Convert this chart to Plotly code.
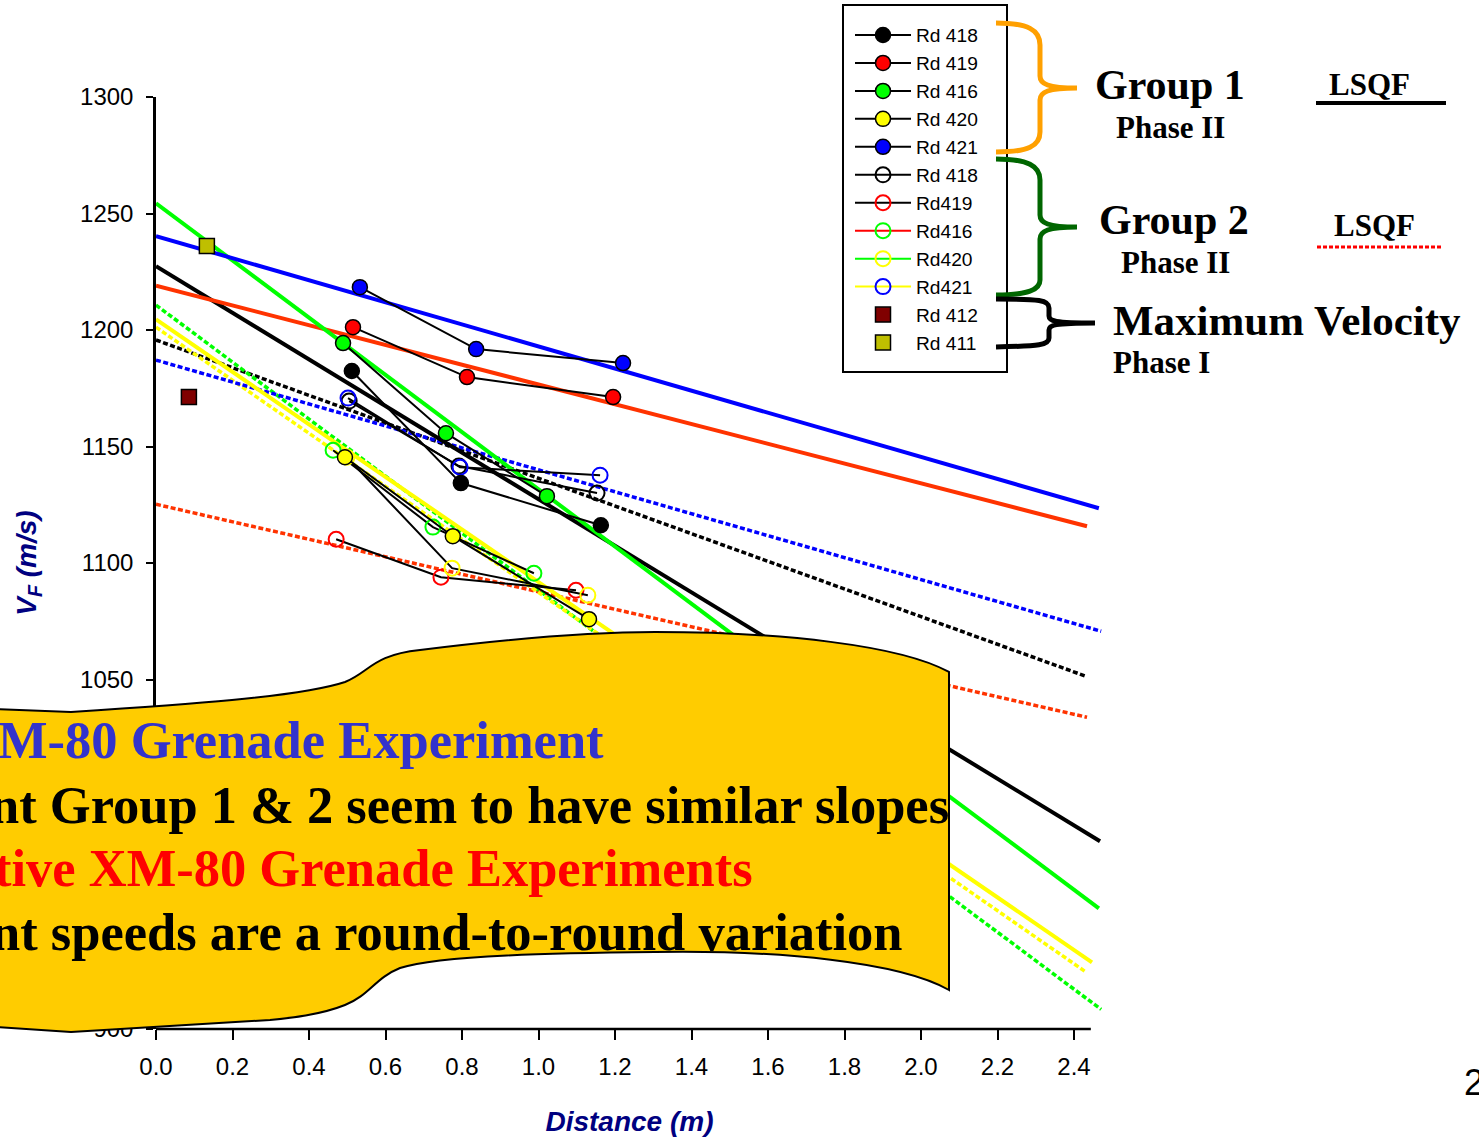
import plotly.graph_objects as go

# ---------------- data ----------------
# Group 1 - Phase II (filled markers): distance (m) / velocity (m/s)
rd418_x = [0.512, 0.797, 1.163]
rd418_v = [1182.4, 1134.3, 1116.2]
rd419_x = [0.515, 0.813, 1.195]
rd419_v = [1201.2, 1179.8, 1171.2]
rd416_x = [0.489, 0.758, 1.022]
rd416_v = [1194.4, 1155.7, 1128.7]
rd420_x = [0.494, 0.776, 1.132]
rd420_v = [1145.4, 1111.5, 1075.9]
rd421_x = [0.533, 0.837, 1.221]
rd421_v = [1218.4, 1191.8, 1185.8]

# Group 2 - Phase II (open markers)
rd418b_x = [0.505, 0.792, 1.153]
rd418b_v = [1169.5, 1141.6, 1130.0]
rd419b_x = [0.471, 0.745, 1.098]
rd419b_v = [1110.2, 1093.9, 1088.3]
rd416b_x = [0.463, 0.724, 0.988]
rd416b_v = [1148.4, 1115.4, 1095.6]
rd420b_x = [0.499, 0.774, 1.129]
rd420b_v = [1145.4, 1097.8, 1086.2]
rd421b_x = [0.502, 0.795, 1.161]
rd421b_v = [1170.8, 1141.1, 1137.7]

# Maximum velocity - Phase I
rd412_x = [0.086]
rd412_v = [1171.2]
rd411_x = [0.133]
rd411_v = [1236.0]

# LSQF fit lines (end points)
fit1_418_x = [0.0, 2.468]
fit1_418_v = [1227.4, 980.6]
fit1_419_x = [0.0, 2.434]
fit1_419_v = [1219.0, 1115.8]
fit1_416_x = [0.0, 2.465]
fit1_416_v = [1254.4, 951.8]
fit1_420_x = [0.0, 2.447]
fit1_420_v = [1204.6, 928.6]
fit1_421_x = [0.0, 2.465]
fit1_421_v = [1240.3, 1123.5]

fit2_418_x = [0.0, 2.431]
fit2_418_v = [1195.7, 1051.4]
fit2_419_x = [0.0, 2.434]
fit2_419_v = [1125.2, 1033.8]
fit2_416_x = [0.0, 2.471]
fit2_416_v = [1210.7, 908.4]
fit2_420_x = [0.0, 2.429]
fit2_420_v = [1201.2, 924.7]
fit2_421_x = [0.0, 2.471]
fit2_421_v = [1187.1, 1070.7]

x_tick_vals = [0.0, 0.2, 0.4, 0.6, 0.8, 1.0, 1.2, 1.4, 1.6, 1.8, 2.0, 2.2, 2.4]
y_tick_vals = [900, 950, 1000, 1050, 1100, 1150, 1200, 1250, 1300]
# 950 / 1000 labels are hidden behind the callout banner in the reference
y_tick_text = ["900", "", "", "1050", "1100", "1150", "1200", "1250", "1300"]

box_lines = [
    "M-80 Grenade Experiment",
    "nt Group 1 &amp; 2 seem to have similar slopes",
    "tive XM-80 Grenade Experiments",
    "nt speeds are a round-to-round variation",
]

# ---------------- layout geometry ----------------
FIG_W, FIG_H = 1479, 1138
PL, PT, PW, PH = 156, 97, 947, 932
X_PER_PX = 1 / 382.5

def px(x):
    return (x - PL) / PW

def py(y):
    return (PT + PH - y) / PH

def path(cmds, close=False):
    out = []
    for c, pts in cmds:
        out.append(c + " ".join(f"{px(a):.5f},{py(b):.5f}" for a, b in pts))
    return " ".join(out) + (" Z" if close else "")

ARIAL = "Arial, 'Liberation Sans', sans-serif"
TIMES = "'Times New Roman', 'Liberation Serif', serif"

fig = go.Figure()

# fit lines
solid = [
    (fit1_418_x, fit1_418_v, "#000000"),
    (fit1_419_x, fit1_419_v, "#FF3300"),
    (fit1_416_x, fit1_416_v, "#00FF00"),
    (fit1_420_x, fit1_420_v, "#FFFF00"),
    (fit1_421_x, fit1_421_v, "#0000FF"),
]
dotted = [
    (fit2_418_x, fit2_418_v, "#000000"),
    (fit2_419_x, fit2_419_v, "#FF3300"),
    (fit2_416_x, fit2_416_v, "#00FF00"),
    (fit2_420_x, fit2_420_v, "#FFFF00"),
    (fit2_421_x, fit2_421_v, "#0000FF"),
]
for xs, vs, col in dotted:
    fig.add_trace(go.Scatter(x=xs, y=vs, mode="lines", showlegend=False,
                             line=dict(color=col, width=3.5, dash="5px,2.5px"),
                             hoverinfo="skip"))
for xs, vs, col in solid:
    fig.add_trace(go.Scatter(x=xs, y=vs, mode="lines", showlegend=False,
                             line=dict(color=col, width=4), hoverinfo="skip"))

# group 2 data (open markers)
g2 = [
    ("Rd 418", rd418b_x, rd418b_v, "#000000", "#000000", True, 6),
    ("Rd419", rd419b_x, rd419b_v, "#FF0000", "#000000", True, 7),
    ("Rd416", rd416b_x, rd416b_v, "#00FF00", "#FF0000", False, 8),
    ("Rd420", rd420b_x, rd420b_v, "#FFFF00", "#00FF00", False, 9),
    ("Rd421", rd421b_x, rd421b_v, "#0000FF", "#FFFF00", False, 10),
]
for name, xs, vs, mcol, lcol, show, rank in g2:
    fig.add_trace(go.Scatter(
        x=xs, y=vs, mode="lines+markers", name=name, showlegend=show,
        legendrank=rank,
        line=dict(color="#000000", width=2),
        marker=dict(symbol="circle-open", size=15, color=mcol,
                    line=dict(width=2, color=mcol))))
    if not show:
        fig.add_trace(go.Scatter(
            x=[None], y=[None], mode="lines+markers", name=name,
            legendrank=rank,
            line=dict(color=lcol, width=2),
            marker=dict(symbol="circle-open", size=15, color=mcol,
                        line=dict(width=2, color=mcol))))

# group 1 data (filled markers)
g1 = [
    ("Rd 418", rd418_x, rd418_v, "#000000", 1),
    ("Rd 419", rd419_x, rd419_v, "#FF0000", 2),
    ("Rd 416", rd416_x, rd416_v, "#00FF00", 3),
    ("Rd 420", rd420_x, rd420_v, "#FFFF00", 4),
    ("Rd 421", rd421_x, rd421_v, "#0000FF", 5),
]
for name, xs, vs, col, rank in g1:
    fig.add_trace(go.Scatter(
        x=xs, y=vs, mode="lines+markers", name=name, legendrank=rank,
        line=dict(color="#000000", width=2),
        marker=dict(symbol="circle", size=15, color=col,
                    line=dict(width=1.5, color="#000000"))))

# maximum velocity
fig.add_trace(go.Scatter(x=rd412_x, y=rd412_v, mode="markers", name="Rd 412",
                         legendrank=11,
                         marker=dict(symbol="square", size=15, color="#800000",
                                     line=dict(width=1.5, color="#000000"))))
fig.add_trace(go.Scatter(x=rd411_x, y=rd411_v, mode="markers", name="Rd 411",
                         legendrank=12,
                         marker=dict(symbol="square", size=15, color="#BFBF00",
                                     line=dict(width=1.5, color="#000000"))))

shapes = []
# x axis line (only up to 2.44)
shapes.append(dict(type="line", xref="x", yref="paper", x0=0, x1=2.444, y0=0, y1=0,
                   line=dict(color="#000000", width=2.5)))
# legend frame
shapes.append(dict(type="rect", xref="paper", yref="paper",
                   x0=px(843), x1=px(1007), y0=py(5), y1=py(372),
                   line=dict(color="#000000", width=2), fillcolor="rgba(0,0,0,0)"))
# braces
orange = path([("M", [(996, 23)]),
               ("C", [(1028, 23), (1040, 30), (1040, 45)]),
               ("L", [(1040, 76)]),
               ("C", [(1040, 84), (1048, 88), (1077, 88)]),
               ("C", [(1048, 88), (1040, 92), (1040, 100)]),
               ("L", [(1040, 132)]),
               ("C", [(1040, 146), (1028, 152), (996, 152)])])
green = path([("M", [(996, 159)]),
              ("C", [(1028, 159), (1040, 166), (1040, 180)]),
              ("L", [(1040, 215)]),
              ("C", [(1040, 223), (1048, 227), (1077, 227)]),
              ("C", [(1048, 227), (1040, 231), (1040, 239)]),
              ("L", [(1040, 280)]),
              ("C", [(1040, 290), (1028, 295), (996, 295)])])
black = path([("M", [(996, 299)]),
              ("C", [(1040, 299), (1049, 300), (1049, 308)]),
              ("L", [(1049, 316)]),
              ("C", [(1049, 321), (1054, 323), (1095, 323)]),
              ("C", [(1054, 323), (1049, 325), (1049, 330)]),
              ("L", [(1049, 338)]),
              ("C", [(1049, 345), (1040, 346), (996, 347)])])
for pth, col in [(orange, "#FFA000"), (green, "#006600"), (black, "#000000")]:
    shapes.append(dict(type="path", xref="paper", yref="paper", path=pth,
                       line=dict(color=col, width=5), fillcolor="rgba(0,0,0,0)"))
# LSQF samples
shapes.append(dict(type="line", xref="paper", yref="paper",
                   x0=px(1316), x1=px(1446), y0=py(103), y1=py(103),
                   line=dict(color="#000000", width=4)))
shapes.append(dict(type="line", xref="paper", yref="paper",
                   x0=px(1317), x1=px(1443), y0=py(247), y1=py(247),
                   line=dict(color="#FF0000", width=3, dash="4px,2px")))
# callout banner
banner = path([("M", [(-5, 709)]),
               ("L", [(71, 712)]),
               ("C", [(180, 705), (300, 697), (345, 682)]),
               ("C", [(370, 672), (372, 655), (420, 650)]),
               ("C", [(500, 640), (580, 632), (655, 632)]),
               ("C", [(780, 632), (900, 645), (949, 672)]),
               ("L", [(949, 990)]),
               ("C", [(900, 962), (780, 950), (655, 952)]),
               ("C", [(560, 953), (440, 955), (400, 968)]),
               ("C", [(375, 978), (370, 995), (345, 1005)]),
               ("C", [(320, 1015), (290, 1018), (270, 1020)]),
               ("L", [(71, 1032)]),
               ("L", [(-5, 1027)])], close=True)
shapes.append(dict(type="path", xref="paper", yref="paper", path=banner,
                   fillcolor="#FFCC00", line=dict(color="#000000", width=2),
                   layer="above"))

annotations = []
def txt(text, x, y, size, color="#000000", xanchor="center", family=TIMES, bold=True):
    t = f"<b>{text}</b>" if bold else text
    annotations.append(dict(text=t, x=px(x), y=py(y), xref="paper", yref="paper",
                            xanchor=xanchor, yanchor="middle", showarrow=False,
                            font=dict(family=family, size=size, color=color)))

txt("Group 1", 1170, 85, 42)
txt("Phase II", 1170, 128, 31)
txt("LSQF", 1369, 85, 31)
txt("Group 2", 1174, 220, 42)
txt("Phase II", 1175, 262, 31)
txt("LSQF", 1374, 225, 31)
txt("Maximum Velocity", 1111, 320, 43, xanchor="left")
txt("Phase I", 1111, 362, 31, xanchor="left")

line_colors = ["#3333CC", "#000000", "#FF0000", "#000000"]
line_right = [606, 951, 755, 905]
line_y = [740, 805, 868, 932]
for t, c, r, yy in zip(box_lines, line_colors, line_right, line_y):
    txt(t, r, yy, 52.5, color=c, xanchor="right")

txt("2", 1462, 1082, 36, family=ARIAL, xanchor="left", bold=False)

fig.update_layout(
    width=FIG_W, height=FIG_H,
    margin=dict(l=PL, r=FIG_W - PL - PW, t=PT, b=FIG_H - PT - PH, autoexpand=False),
    paper_bgcolor="white", plot_bgcolor="white",
    showlegend=True,
    legend=dict(x=px(850), y=py(16), xanchor="left", yanchor="top",
                bgcolor="rgba(0,0,0,0)", borderwidth=0, itemwidth=56,
                font=dict(family=ARIAL, size=19.2, color="#000000"),
                tracegroupgap=0, itemclick=False, itemdoubleclick=False),
    shapes=shapes, annotations=annotations,
    xaxis=dict(range=[0, PW * X_PER_PX], tickvals=x_tick_vals, tickformat=".1f",
               showgrid=False, zeroline=False, showline=False,
               ticks="outside", ticklen=10, tickwidth=2, tickcolor="#000000",
               ticklabelstandoff=6, automargin=False,
               tickfont=dict(family=ARIAL, size=24, color="#000000"),
               title=dict(text="<b><i>Distance (m)</i></b>", standoff=32,
                          font=dict(family=ARIAL, size=28, color="#000080"))),
    yaxis=dict(range=[900, 1300], tickvals=y_tick_vals, ticktext=y_tick_text,
               showgrid=False, zeroline=False, showline=True, linecolor="#000000",
               linewidth=2.5, ticks="outside", ticklen=7, tickwidth=2,
               tickcolor="#000000", ticklabelstandoff=8, automargin=False,
               tickfont=dict(family=ARIAL, size=24, color="#000000"),
               title=dict(text="<b><i>V<sub>F</sub> (m/s)</i></b>", standoff=36,
                          font=dict(family=ARIAL, size=28, color="#000080"))),
)

# the page body has a default 8px margin; remove it so the figure fills the window
fig.write_html("out.html",
               config={"displayModeBar": False},
               post_script="document.body.style.margin='0px';"
                           "document.body.style.overflow='hidden';")
